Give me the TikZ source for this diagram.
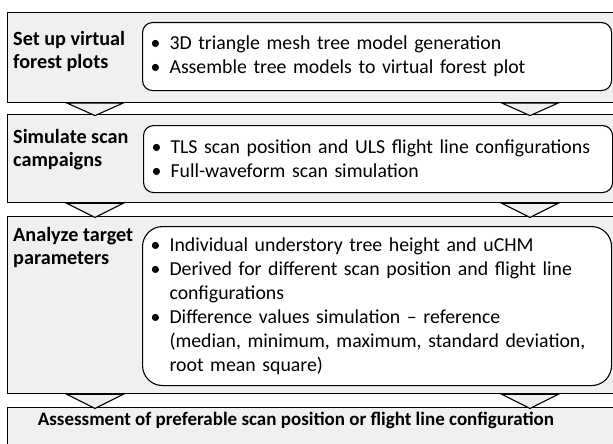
\documentclass[tikz,border=0pt]{standalone}
\usepackage{fontspec}
\setmainfont{Carlito}
\usetikzlibrary{positioning}

\definecolor{stagegray}{HTML}{F0F0F0}
\newcommand{\bul}{\makebox[19pt][l]{\textbullet}}
\newcommand{\ind}{\hspace*{19pt}}

\tikzset{
  stagebox/.style={draw, line width=1.4pt, fill=stagegray, anchor=north west, minimum width=607pt, inner sep=0pt},
  stagename/.style={font=\fontsize{20.2}{23}\selectfont\bfseries, align=left, anchor=west, inner sep=0pt},
  itembox/.style={draw, line width=1.1pt, fill=white, rounded corners=10pt, anchor=north west, text width=453pt, align=left, inner xsep=8pt, inner ysep=0pt},
  tri/.style={draw, line width=1.1pt, fill=stagegray, line join=miter},
}

\begin{document}
\begin{tikzpicture}[x=1pt, y=-1pt, font=\fontsize{19.8}{24}\selectfont]
        \useasboundingbox (0,0) rectangle (613,444);

        % stages
        \node[stagebox, minimum height=89.7pt] (s1) at (7,12) {};
        \node[stagebox, minimum height=88pt] (s2) at (7,114) {};
        \node[stagebox, minimum height=177pt] (s3) at (7,216) {};
        \node[stagebox, minimum height=45pt] (s4) at (7,407) {};

        % arrows between stages
        \draw[tri] (s1.south west) ++(60,0) -- ++(28,12.5) -- ++(28,-12.5) -- cycle;
        \draw[tri] (s1.south west) ++(495,0) -- ++(28,12.5) -- ++(28,-12.5) -- cycle;
        \draw[tri] (s2.south west) ++(60,0) -- ++(28,14) -- ++(28,-14) -- cycle;
        \draw[tri] (s2.south west) ++(495,0) -- ++(28,14) -- ++(28,-14) -- cycle;
        \draw[tri] (s3.south west) ++(60,0) -- ++(28,14) -- ++(28,-14) -- cycle;
        \draw[tri] (s3.south west) ++(495,0) -- ++(28,14) -- ++(28,-14) -- cycle;

        % stage names
        \node[stagename] (n1) at (13,51.5) {Set up virtual\\forest plots};
        \node[stagename] (n2) at (13,150) {Simulate scan\\campaigns};
        \node[stagename] (n3) at (13,247.5) {Analyze target\\parameters};
        \node[stagename, font=\fontsize{19}{23}\selectfont\bfseries, anchor=center] (n4) at (296,420)
          {Assessment of preferable scan position or flight line configuration};

        % details
        \node[itembox, minimum height=68pt] (d1) at (142,22)
          {\bul 3D triangle mesh tree model generation\\
           \bul Assemble tree models to virtual forest plot};
        \node[itembox, minimum height=67pt] (d2) at (143,125)
          {\bul TLS scan position and ULS flight line configurations\\
           \bul Full-waveform scan simulation};
        \node[itembox, rounded corners=20pt, minimum height=159pt] (d3) at (142,226)
          {\bul Individual understory tree height and uCHM\\
           \bul Derived for different scan position and flight line\\
           \ind configurations\\
           \bul Difference values simulation -- reference\\
           \ind (median, minimum, maximum, standard deviation,\\
           \ind root mean square)};

      \end{tikzpicture}
\end{document}
